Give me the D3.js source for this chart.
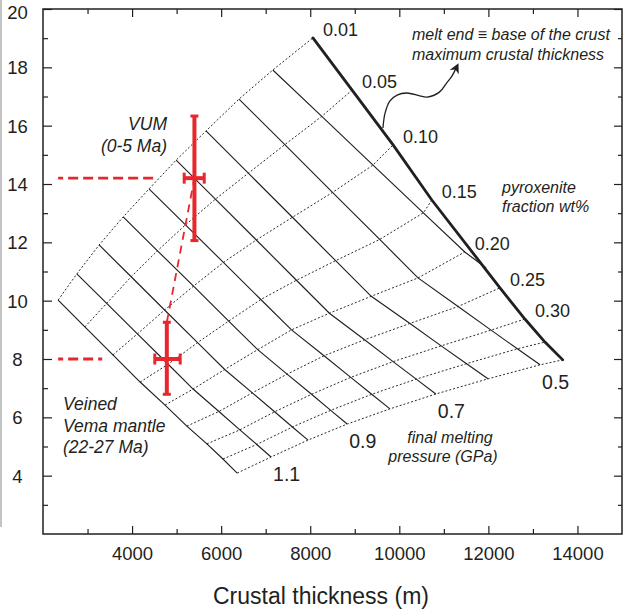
<!DOCTYPE html>
<html><head><meta charset="utf-8">
<script src="https://cdn.jsdelivr.net/npm/d3@7/dist/d3.min.js"></script>
<style>
html,body{margin:0;padding:0;background:#fff;}
svg{display:block;}
text{font-family:"Liberation Sans",Arial,Helvetica,sans-serif;fill:#231f20;}
</style></head><body>
<svg id="chart" width="623" height="609"></svg>
<script>
// ---------------- data ----------------
const pressureValues = [1.2, 1.1, 1.0, 0.9, 0.8, 0.7, 0.6, 0.5];
const labelledPressures = ["1.1", "0.9", "0.7", "0.5"];
const fractionValues = [0.01, 0.05, 0.10, 0.15, 0.20, 0.25, 0.30, 0.35, 0.40];
const fractionLabels = ["0.01", "0.05", "0.10", "0.15", "0.20", "0.25", "0.30"];

// grid nodes: one row per final melting pressure, one column per pyroxenite fraction
const gridThickness = [
  [2340, 2940, 3570, 4180, 4740, 5230, 5680, 6040, 6360],
  [2760, 3430, 4120, 4810, 5370, 5950, 6420, 6800, 7120],
  [3260, 3980, 4730, 5470, 6080, 6700, 7200, 7600, 7950],
  [3800, 4570, 5380, 6170, 6820, 7480, 8030, 8460, 8830],
  [4380, 5200, 6050, 6890, 7580, 8310, 8910, 9380, 9790],
  [4990, 5870, 6790, 7690, 8430, 9220, 9860, 10380, 10820],
  [5660, 6610, 7600, 8570, 9370, 10240, 10940, 11510, 11990],
  [6400, 7430, 8500, 9560, 10420, 11320, 12060, 12650, 13160]
];
const gridY = [
  [10.02, 9.10, 8.14, 7.21, 6.42, 5.70, 5.09, 4.57, 4.09],
  [10.92, 9.91, 8.86, 7.82, 6.97, 6.20, 5.57, 5.07, 4.64],
  [11.91, 10.82, 9.68, 8.56, 7.64, 6.84, 6.19, 5.67, 5.22],
  [12.87, 11.71, 10.50, 9.30, 8.32, 7.48, 6.79, 6.24, 5.77],
  [13.83, 12.60, 11.31, 10.04, 9.00, 8.11, 7.37, 6.79, 6.29],
  [14.82, 13.48, 12.08, 10.70, 9.57, 8.66, 7.91, 7.31, 6.80],
  [15.82, 14.37, 12.86, 11.37, 10.15, 9.22, 8.45, 7.84, 7.32],
  [16.91, 15.35, 13.71, 12.10, 10.78, 9.80, 8.99, 8.35, 7.80]
];
// 0.4 GPa line (crosses the first five fraction lines, then joins the melt-end line)
const p04Thickness = [7160, 8260, 9410, 10540, 11470, 11950];
const p04Y = [17.91, 16.32, 14.65, 13.01, 11.67, 11.12];
// end of each pyroxenite fraction line
const fractionEndThickness = [8060, 8940, 9860, 10730, 11470, 12260, 12820, 13270, 13670];
const fractionEndY = [19.01, 17.22, 15.34, 13.45, 11.67, 10.44, 9.37, 8.58, 7.97];
// melt end = base of the crust (heavy line)
const meltEndThickness = [8060, 8940, 9860, 10730, 12260, 12820, 13270, 13670];
const meltEndY = [19.01, 17.22, 15.34, 13.45, 10.44, 9.37, 8.58, 7.97];

// samples
const sampleNames = ["VUM", "Vema"];
const sampleThickness = [5400, 4780];
const sampleThicknessLow = [5170, 4510];
const sampleThicknessHigh = [5620, 5080];
const sampleY = [14.2, 8.0];
const sampleYLow = [12.06, 6.79];
const sampleYHigh = [16.33, 9.26];
const refLineStart = [2340, 2340];
const refLineEnd = [4570, 3330];

// arrow annotation path
const arrowThickness = [9633, 9680, 9790, 9950, 10170, 10460, 10620, 10900, 11060, 11170, 11300];
const arrowY = [15.92, 16.43, 16.85, 17.05, 17.12, 17.02, 16.98, 17.15, 17.46, 17.67, 18.05];

const xMajorTicks = [4000, 6000, 8000, 10000, 12000, 14000];
const xMinorTicks = [3000, 5000, 7000, 9000, 11000, 13000];
const yMajorTicks = [4, 6, 8, 10, 12, 14, 16, 18, 20];
const yMinorTicks = [3, 5, 7, 9, 11, 13, 15, 17, 19];

// ---------------- drawing ----------------
const svg = d3.select("#chart");
const L = 43, R = 622, T = 9, B = 534;
const x = d3.scaleLinear().domain([2000, 15000]).range([L, R]);
const y = d3.scaleLinear().domain([2, 20]).range([B, T]);
const ink = "#231f20";
const red = "#e8262d";

// faint scan edge at far left
svg.append("line").attr("x1", 1).attr("x2", 1).attr("y1", 0).attr("y2", 527)
  .attr("stroke", "#c4c4c4").attr("stroke-width", 2);

// axes
function styleAxis(g) {
  g.select(".domain").remove();
  g.selectAll(".tick line").attr("stroke", ink).attr("stroke-width", 1.2);
}
svg.append("g").attr("transform", `translate(0,${B})`)
  .call(d3.axisBottom(x).tickValues(xMajorTicks).tickSize(-8).tickPadding(13).tickFormat(d3.format("d")))
  .call(styleAxis)
  .call(g => g.selectAll("text").attr("font-size", 18.5).attr("fill", ink)
    .style("font-family", '"Liberation Sans",Arial,sans-serif'));
svg.append("g").attr("transform", `translate(0,${B})`)
  .call(d3.axisBottom(x).tickValues(xMinorTicks).tickSize(-5).tickFormat(""))
  .call(styleAxis);
svg.append("g").attr("transform", `translate(0,${T})`)
  .call(d3.axisTop(x).tickValues(xMajorTicks).tickSize(-8).tickFormat(""))
  .call(styleAxis);
svg.append("g").attr("transform", `translate(0,${T})`)
  .call(d3.axisTop(x).tickValues(xMinorTicks).tickSize(-5).tickFormat(""))
  .call(styleAxis);
svg.append("g").attr("transform", `translate(${L},0)`)
  .call(d3.axisLeft(y).tickValues(yMajorTicks).tickSize(-9).tickFormat(d3.format("d")))
  .call(styleAxis)
  .call(g => g.selectAll("text").attr("font-size", 18.5).attr("fill", ink)
    .attr("text-anchor", "middle").attr("x", -25.5)
    .attr("dy", d => d === 20 ? "0.85em" : "0.35em")
    .attr("y", d => d === 20 ? -6 : 0)
    .style("font-family", '"Liberation Sans",Arial,sans-serif'));
svg.append("g").attr("transform", `translate(${L},0)`)
  .call(d3.axisLeft(y).tickValues(yMinorTicks).tickSize(-5).tickFormat(""))
  .call(styleAxis);
svg.append("g").attr("transform", `translate(${R},0)`)
  .call(d3.axisRight(y).tickValues(yMajorTicks).tickSize(-8).tickFormat(""))
  .call(styleAxis);
svg.append("g").attr("transform", `translate(${R},0)`)
  .call(d3.axisRight(y).tickValues(yMinorTicks).tickSize(-4).tickFormat(""))
  .call(styleAxis);
svg.append("rect").attr("x", L).attr("y", T).attr("width", R - L).attr("height", B - T)
  .attr("fill", "none").attr("stroke", ink).attr("stroke-width", 1.5);

// axis title
svg.append("text").attr("x", 321).attr("y", 604).attr("text-anchor", "middle")
  .attr("font-size", 23).text("Crustal thickness (m)");

const line = d3.line().x(d => x(d[0])).y(d => y(d[1]));

// pyroxenite fraction lines (dotted)
const fractionLines = fractionValues.map((f, i) => {
  const pts = pressureValues.map((p, j) => [gridThickness[j][i], gridY[j][i]]);
  if (i < p04Thickness.length - 1) pts.push([p04Thickness[i], p04Y[i]]);
  const last = pts[pts.length - 1];
  if (last[0] !== fractionEndThickness[i] || last[1] !== fractionEndY[i])
    pts.push([fractionEndThickness[i], fractionEndY[i]]);
  return pts;
});
svg.append("g").selectAll("path").data(fractionLines).join("path")
  .attr("d", line).attr("fill", "none").attr("stroke", "#2a2a2a")
  .attr("stroke-width", 1).attr("stroke-dasharray", "2,2");

// final melting pressure lines (solid)
const pressureLines = pressureValues.map((p, j) => gridThickness[j].map((t, i) => [t, gridY[j][i]]));
pressureLines.push(p04Thickness.map((t, i) => [t, p04Y[i]]));
svg.append("g").selectAll("path").data(pressureLines).join("path")
  .attr("d", line).attr("fill", "none").attr("stroke", ink).attr("stroke-width", 1.15);

// melt end heavy line
svg.append("path").datum(meltEndThickness.map((t, i) => [t, meltEndY[i]]))
  .attr("d", line).attr("fill", "none").attr("stroke", ink).attr("stroke-width", 2.8)
  .attr("stroke-linecap", "round");

// fraction labels
svg.append("g").selectAll("text").data(fractionLabels).join("text")
  .attr("x", (d, i) => x(fractionEndThickness[i]) + 10)
  .attr("y", (d, i) => y(fractionEndY[i]) - 2)
  .attr("font-size", 18).text(d => d);

// pressure labels
svg.append("g").selectAll("text").data(labelledPressures).join("text")
  .attr("x", d => x(gridThickness[pressureValues.indexOf(+d)][8]) + 2)
  .attr("y", d => y(gridY[pressureValues.indexOf(+d)][8]) + 24)
  .attr("font-size", 19.5).text(d => d);

// italic annotations
const ann = svg.append("g").attr("font-style", "italic");
function addText(tx, ty, s, size, anchor) {
  ann.append("text").attr("x", tx).attr("y", ty).attr("font-size", size)
    .attr("text-anchor", anchor || "start").text(s);
}
addText(412, 40, "melt end \u2261 base of the crust", 16);
addText(412, 60, "maximum crustal thickness", 16);
addText(502, 193, "pyroxenite", 16);
addText(502, 212, "fraction wt%", 16);
addText(450, 443, "final melting", 16, "middle");
addText(443, 462, "pressure (GPa)", 16, "middle");
addText(167, 130, "VUM", 17.5, "end");
addText(167, 152, "(0-5 Ma)", 17.5, "end");
addText(63, 410, "Veined", 17.5);
addText(63, 432, "Vema mantle", 17.5);
addText(63, 453, "(22-27 Ma)", 17.5);

// arrow
const defs = svg.append("defs");
defs.append("marker").attr("id", "ah").attr("viewBox", "0 0 10 10")
  .attr("refX", 7).attr("refY", 5).attr("markerWidth", 10).attr("markerHeight", 10)
  .attr("markerUnits", "userSpaceOnUse").attr("orient", "auto")
  .append("path").attr("d", "M0,0 L10,5 L0,10 L3,5 z").attr("fill", ink);
svg.append("path").datum(arrowThickness.map((t, i) => [t, arrowY[i]]))
  .attr("d", d3.line().x(d => x(d[0])).y(d => y(d[1])).curve(d3.curveCatmullRom))
  .attr("fill", "none").attr("stroke", ink).attr("stroke-width", 1.3)
  .attr("marker-end", "url(#ah)");

// red: connecting dashed line
svg.append("line")
  .attr("x1", x(sampleThickness[1])).attr("y1", y(sampleYHigh[1]))
  .attr("x2", x(sampleThickness[0])).attr("y2", y(sampleY[0]))
  .attr("stroke", red).attr("stroke-width", 1.8).attr("stroke-dasharray", "8,6");

// red: horizontal reference lines
svg.append("g").selectAll("line").data(sampleNames).join("line")
  .attr("x1", (d, i) => x(refLineStart[i]))
  .attr("x2", (d, i) => x(refLineEnd[i]))
  .attr("y1", (d, i) => y(sampleY[i])).attr("y2", (d, i) => y(sampleY[i]))
  .attr("stroke", red).attr("stroke-width", 2.8).attr("stroke-dasharray", "10,5")
  .attr("stroke-dashoffset", 5);

// red: error bars
const eb = svg.append("g").attr("stroke", red);
sampleNames.forEach((n, i) => {
  const cx = x(sampleThickness[i]), cy = y(sampleY[i]);
  eb.append("line").attr("x1", cx).attr("x2", cx).attr("y1", y(sampleYLow[i])).attr("y2", y(sampleYHigh[i]))
    .attr("stroke-width", 4);
  eb.append("line").attr("x1", x(sampleThicknessLow[i])).attr("x2", x(sampleThicknessHigh[i]))
    .attr("y1", cy).attr("y2", cy).attr("stroke-width", 4);
  [sampleYLow[i], sampleYHigh[i]].forEach(v => {
    eb.append("line").attr("x1", cx - 4).attr("x2", cx + 4).attr("y1", y(v)).attr("y2", y(v))
      .attr("stroke-width", 3);
  });
  [sampleThicknessLow[i], sampleThicknessHigh[i]].forEach(v => {
    eb.append("line").attr("x1", x(v)).attr("x2", x(v)).attr("y1", cy - 5.5).attr("y2", cy + 5.5)
      .attr("stroke-width", 3);
  });
});
</script>
</body></html>
